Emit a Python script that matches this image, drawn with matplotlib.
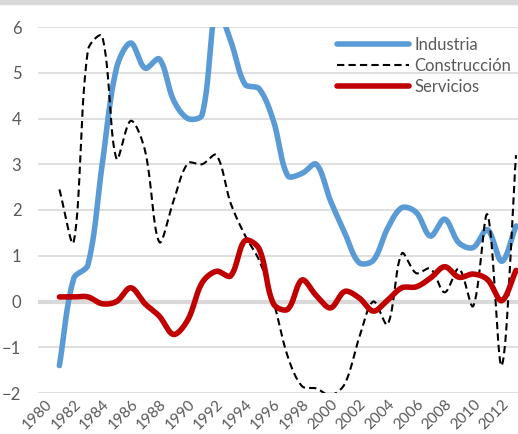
import numpy as np
import matplotlib.pyplot as plt
from matplotlib.patches import Rectangle

years = list(range(1981, 2014))
industria = [-1.4, 0.5, 0.8, 3.0, 5.1, 5.65, 5.1, 5.3, 4.4, 4.0, 4.08, 6.4, 5.7,
             4.75, 4.65, 3.95, 2.75, 2.8, 3.0, 2.2, 1.5, 0.85, 0.9, 1.6, 2.05,
             1.95, 1.43, 1.8, 1.28, 1.18, 1.57, 0.88, 1.65]
construccion = [2.45, 1.3, 5.5, 5.8, 3.12, 3.95, 3.3, 1.3, 2.2, 3.02, 3.0, 3.2, 2.15,
                1.45, 0.9, 0.0, -1.2, -1.85, -1.9, -2.05, -1.8, -0.8, 0.0, -0.5,
                1.05, 0.62, 0.72, 0.2, 0.72, -0.1, 1.9, -1.4, 3.2]
servicios = [0.1, 0.1, 0.1, -0.05, 0.0, 0.3, -0.05, -0.32, -0.72, -0.4, 0.41, 0.66,
             0.56, 1.33, 1.15, -0.05, -0.17, 0.47, 0.13, -0.14, 0.22, 0.08, -0.21,
             0.03, 0.3, 0.32, 0.51, 0.76, 0.53, 0.6, 0.48, 0.02, 0.68]

ytick_vals = [-2, -1, 0, 1, 2, 3, 4, 5, 6]
xtick_years = list(range(1980, 2013, 2))

text_color = "#595959"
grid_color = "#d9d9d9"

# pixel scale of one year / one unit, used to weight the curve tangents
px_year = 14.27
px_unit = 45.75


def smooth_line(x, y, steps=30):
    # bezier through the points, tangents weighted by segment length (excel-ish)
    x = np.asarray(x, dtype=float)
    y = np.asarray(y, dtype=float)
    pts = np.column_stack([x * px_year, y * px_unit])
    n = len(pts)
    seg = np.hypot(*np.diff(pts, axis=0).T)
    t = np.linspace(0, 1, steps)
    out = []
    for i in range(n - 1):
        p0, p3 = pts[i], pts[i + 1]
        if i > 0:
            tan = pts[i + 1] - pts[i - 1]
            c1 = p0 + tan * seg[i] / (seg[i - 1] + seg[i]) / 3
        else:
            c1 = p0 + (p3 - p0) / 3
        if i < n - 2:
            tan = pts[i + 2] - pts[i]
            c2 = p3 - tan * seg[i] / (seg[i] + seg[i + 1]) / 3
        else:
            c2 = p3 - (p3 - p0) / 3
        b = (np.outer((1 - t) ** 3, p0) + np.outer(3 * (1 - t) ** 2 * t, c1)
             + np.outer(3 * (1 - t) * t ** 2, c2) + np.outer(t ** 3, p3))
        out.append(b)
    out = np.vstack(out)
    return out[:, 0] / px_year, out[:, 1] / px_unit


def main():
    plt.rcParams["font.family"] = ["Lato", "DejaVu Sans"]
    fig = plt.figure(figsize=(5.18, 4.34), dpi=100)
    fig.patches.append(Rectangle((0, 1 - 4 / 434), 1, 4 / 434, transform=fig.transFigure,
                                 color="#d9d9d9", zorder=0))
    ax = fig.add_axes([38 / 518, 1 - 393 / 434, 480 / 518, 366 / 434])

    ax.set_ylim(-2, 6)
    ax.set_xlim(1979.5, 2013.14)
    ax.set_yticks(ytick_vals)
    ax.set_xticks(xtick_years)
    ax.set_xticklabels([str(y) for y in xtick_years], rotation=45, ha="right",
                       va="top", rotation_mode="anchor")
    for s in ax.spines.values():
        s.set_visible(False)
    ax.tick_params(length=0, labelcolor=text_color)
    ax.tick_params(axis="y", pad=12, labelsize=12)
    ax.tick_params(axis="x", pad=3, labelsize=11)
    ax.yaxis.grid(True, color=grid_color, lw=1.2)
    ax.axhline(0, color=grid_color, lw=3, zorder=1)
    ax.set_axisbelow(True)

    sx, sy = smooth_line(years, industria)
    ax.plot(sx, sy, color="#5b9bd5", lw=4, label="Industria", solid_capstyle="round")
    sx, sy = smooth_line(years, construccion)
    ax.plot(sx, sy, color="black", lw=1.5, ls=(0, (3.5, 2)), label="Construcción")
    sx, sy = smooth_line(years, servicios)
    ax.plot(sx, sy, color="#c00000", lw=4, label="Servicios", solid_capstyle="round")

    leg = ax.legend(loc="upper right", bbox_to_anchor=(1.0, 0.992), frameon=False,
                    fontsize=12, handlelength=4.3, labelspacing=0.32, handletextpad=0.35,
                    borderaxespad=0.0)
    for t in leg.get_texts():
        t.set_color(text_color)

    plt.savefig("out.png", dpi=100)


if __name__ == "__main__":
    main()
